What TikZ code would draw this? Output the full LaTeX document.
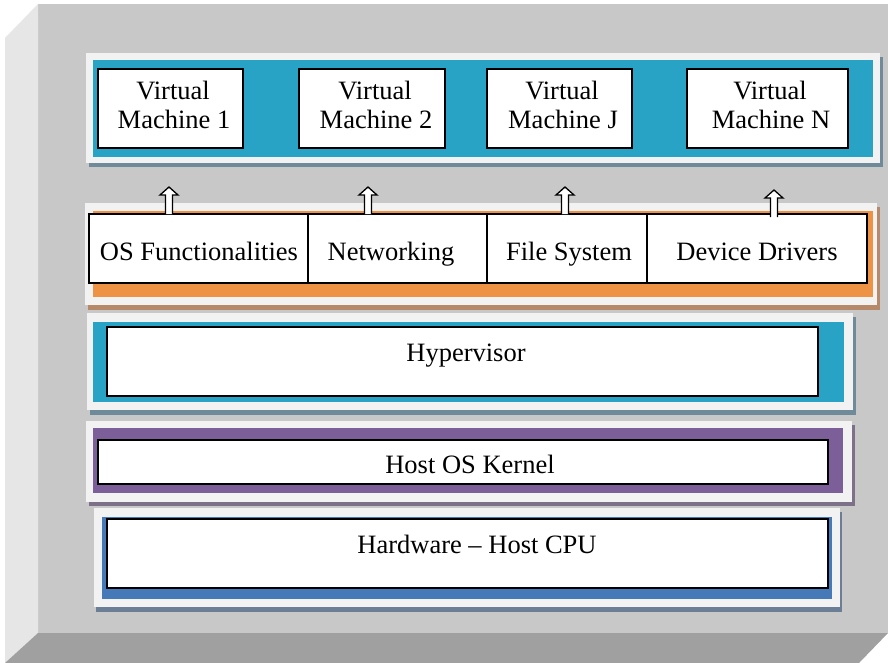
\documentclass[tikz,border=0pt]{standalone}
\usepackage{fontspec}
\setmainfont{Liberation Serif}
\usetikzlibrary{calc}
\definecolor{faceC}{HTML}{C8C8C8}
\definecolor{leftC}{HTML}{E6E6E6}
\definecolor{botC}{HTML}{A0A0A0}
\definecolor{frameC}{HTML}{F2F2F2}
\definecolor{tealC}{HTML}{29A3C5}
\definecolor{orangeC}{HTML}{EE9246}
\definecolor{purpleC}{HTML}{7C5E98}
\definecolor{hwC}{HTML}{4679B8}
\definecolor{shTeal}{HTML}{6F8A98}
\definecolor{shOrange}{HTML}{B5896A}
\definecolor{shPurple}{HTML}{7D7189}
\definecolor{shHw}{HTML}{6C7E95}
\begin{document}
\begin{tikzpicture}[x=1pt,y=-1pt,
  box/.style={draw=black, line width=1.5pt, fill=white, inner sep=0pt},
  vmbox/.style={box, line width=1.8pt},
  txt/.style={font=\fontsize{26.5}{29}\selectfont, inner sep=0pt, anchor=base},
  barrow/.style={draw=black, line width=1.3pt, fill=white, line join=miter}]
\useasboundingbox (0,0) rectangle (888,663);
\fill[white] (0,0) rectangle (888,663);
% bevelled background
\fill[faceC] (38,4) rectangle (888,633);
\fill[leftC] (5,38) -- (38,4) -- (38,633) -- (5,663) -- cycle;
\fill[botC] (38,633) -- (888,633) -- (859,663) -- (5,663) -- cycle;

% Layer 1: virtual machines
\fill[shTeal] (89,57) rectangle (883,167);
\fill[frameC] (86,53) rectangle (880,163);
\fill[tealC] (93,60) rectangle (873,157);
\node[vmbox, minimum width=145pt, minimum height=79pt] (vm1) at (170.5,108.5) {};
\node[vmbox, minimum width=146pt, minimum height=79pt] (vm2) at (372,108.5) {};
\node[vmbox, minimum width=145pt, minimum height=79pt] (vmj) at (559.5,108.5) {};
\node[vmbox, minimum width=161pt, minimum height=79pt] (vmn) at (767.5,108.5) {};
\node[txt] (vm1a) at (173,100) {Virtual};
\node[txt] (vm1b) at (174,129) {Machine 1};
\node[txt] (vm2a) at (375,100) {Virtual};
\node[txt] (vm2b) at (376,129) {Machine 2};
\node[txt] (vmja) at (562,100) {Virtual};
\node[txt] (vmjb) at (563,129) {Machine J};
\node[txt] (vmna) at (770,100) {Virtual};
\node[txt] (vmnb) at (771,129) {Machine N};

% Layer 2: services
\fill[shOrange] (88,207) rectangle (880,310);
\fill[frameC] (85,203) rectangle (877,305);
\fill[orangeC] (93,211) rectangle (873,297);
\node[box, minimum width=219pt, minimum height=69pt] (osf) at (198.5,248.5) {};
\node[box, minimum width=179pt, minimum height=69pt] (net) at (397.5,248.5) {};
\node[box, minimum width=160pt, minimum height=69pt] (fs) at (567,248.5) {};
\node[box, minimum width=220pt, minimum height=69pt] (dd) at (757,248.5) {};
\node[txt] (osft) at (199,260) {OS Functionalities};
\node[txt] (nett) at (391,260) {Networking};
\node[txt] (fst) at (569,260) {File System};
\node[txt] (ddt) at (757,260) {Device Drivers};

% Layer 3: hypervisor
\fill[shTeal] (90,317) rectangle (856,415);
\fill[frameC] (87,313) rectangle (853,410);
\fill[tealC] (93,322) rectangle (844,402);
\node[box, minimum width=711pt, minimum height=69pt] (hv) at (462.5,361.5) {};
\node[txt] (hvt) at (466,361) {Hypervisor};

% Layer 4: host OS kernel
\fill[shPurple] (89,425) rectangle (855,506);
\fill[frameC] (86,421) rectangle (852,502);
\fill[purpleC] (93,428) rectangle (843,493);
\node[box, minimum width=730pt, minimum height=44pt] (hk) at (463,462) {};
\node[txt] (hkt) at (470,473) {Host OS Kernel};

% Layer 5: hardware
\fill[shHw] (96,512) rectangle (842,612);
\fill[frameC] (94,508) rectangle (840,607);
\fill[hwC] (102,517) rectangle (832,599);
\node[box, minimum width=721pt, minimum height=69pt] (hw) at (467.5,553.5) {};
\node[txt] (hwt) at (477,553) {Hardware -- Host CPU};

% block arrows
\coordinate (a1) at ($(osf.north west)+(80.75,0.75)$);
\coordinate (a2) at ($(net.north west)+(60.75,0.75)$);
\coordinate (a3) at ($(fs.north west)+(78.75,0.75)$);
\coordinate (a4) at ($(dd.north west)+(127.75,3.75)$);
\foreach \a in {a1,a2,a3,a4}{
  \draw[barrow] ($(\a)+(-3.5,0)$) -- ($(\a)+(-3.5,-19)$) -- ($(\a)+(-9,-19)$)
    -- ($(\a)+(0,-27)$) -- ($(\a)+(9,-19)$) -- ($(\a)+(3.5,-19)$)
    -- ($(\a)+(3.5,0)$);
}
\end{tikzpicture}
\end{document}
